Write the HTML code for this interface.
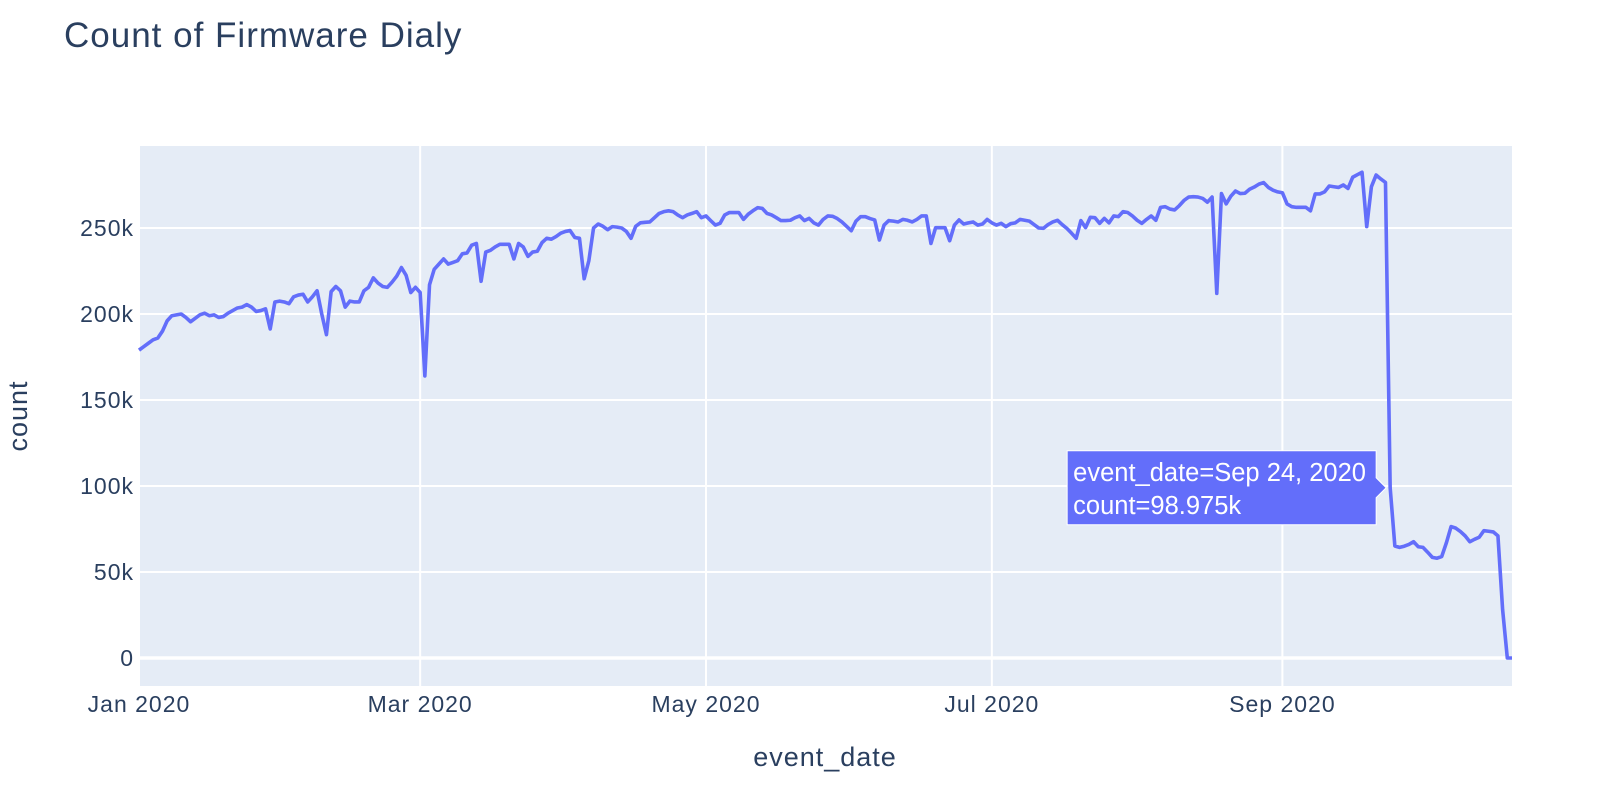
<!DOCTYPE html>
<html><head><meta charset="utf-8"><style>
html,body{margin:0;padding:0;background:#fff;}
svg{display:block;font-family:"Liberation Sans",sans-serif;}
</style></head><body>
<svg id="chart" width="1610" height="808" viewBox="0 0 1610 808">
<text x="64" y="47" font-size="35" letter-spacing="1" fill="#2a3f5f">Count of Firmware Dialy</text>
<rect x="139" y="146" width="1373" height="540" fill="#e5ecf6"/>
<g id="grid"></g>
<g id="yticks"></g>
<g id="xticks"></g>
<path id="line" fill="none" stroke="#636efa" stroke-width="3.6" stroke-linejoin="round"/>
<g id="tooltip"></g>
<text x="825" y="766" font-size="27" letter-spacing="1" text-anchor="middle" fill="#2a3f5f">event_date</text>
<text transform="translate(27,416) rotate(-90)" font-size="27" letter-spacing="1" text-anchor="middle" fill="#2a3f5f">count</text>
</svg>
<script>
const startDate = "2020-01-01";
const counts = [179,181,183,185,186,190,196,199,199.5,200,198,195.5,197.5,199.5,200.5,199,199.5,198,198.5,200.5,
202,203.5,204,205.5,204,201.5,202,203,191.3,207,207.5,207,206,210,211,211.5,207,210,213.5,200,
188,213,216,213.5,204,207.5,207,207,213.5,215.5,221,218,216,215.5,218.5,222,227,222.5,212.5,215.5,
212.5,164,217,226,229,232,229,230,231,235,235.5,240,241,219,236,237,239,240.5,240.5,240.5,
232,241,239,233.5,236,236.5,241.5,244,243.5,245,247,248,248.5,244.5,244,220.5,231,250,252.3,251,
249,250.8,250.5,250,248,244,251,253,253.3,253.5,256,258.5,259.5,260,259.5,257.5,256,257.6,258.5,259.5,
256,257,254.3,251.7,252.7,257.6,259,259,259,255,258,260,261.8,261.4,258.5,257.6,256,254.3,254.3,254.5,
256,257,254.3,255.6,253,251.7,255,257,256.8,255.5,253.5,251,248.4,254,256.6,256.6,255.5,254.7,243,251.7,
254.3,254,253.5,255,254.5,253.5,255,257,257,241,250.2,250.2,250.2,242.6,251.7,254.7,252.3,253,253.5,251.7,
252.3,255,253,251.7,252.7,250.8,252.5,253,255,254.5,254,252,250,249.8,252,253.5,254.5,252,249.8,247,
244,254.3,250.2,256.2,256,252.7,255.6,253,257,256.6,259.5,259,257,254.5,252.7,255,257,254.5,262,262.4,
261,260.5,263,266,268,268.2,268,267.2,265,268,212,270,264,268.5,271.5,270,270.2,272.5,273.8,275.5,
276.4,273.6,272,271,270.5,264,262.4,262,262,262,260,269.8,269.8,271,274.4,274,273.6,275,273,279.5,
281,282.4,250.8,274,280.8,278.5,276.5,98.975,65.1,64.3,65,66,67.6,64.7,64.3,61.5,58.5,58,59,67,
76.4,75.5,73.5,71,67.6,69,70.2,74,73.7,73.3,71,28,0,0];
const yTickValues = [0,50,100,150,200,250];
const yTickLabels = ["0","50k","100k","150k","200k","250k"];
const xTickDates = ["2020-01-01","2020-03-01","2020-05-01","2020-07-01","2020-09-01"];
const xTickLabels = ["Jan 2020","Mar 2020","May 2020","Jul 2020","Sep 2020"];
const hoverIndex = 267;

const NS="http://www.w3.org/2000/svg";
const L=139,R=1512,T=146,B=686;
const DAY=86400000;
const t0=Date.parse(startDate);
const nDays=counts.length-1;
function xs(day){return L+(day/nDays)*(R-L);}
function ys(v){return 658-(v/250)*(658-228);}
function dayOf(s){return (Date.parse(s)-t0)/DAY;}
function mk(tag,attrs,parent){const e=document.createElementNS(NS,tag);for(const k in attrs)e.setAttribute(k,attrs[k]);parent.appendChild(e);return e;}

const grid=document.getElementById('grid');
const yt=document.getElementById('yticks');
yTickValues.forEach((v,i)=>{
  const y=ys(v);
  const g=mk('line',{x1:L,x2:R,y1:y,y2:y,stroke:'#fff','stroke-width':v===0?3.5:2},grid);
  
  
  const t=mk('text',{x:134,y:y+8,'font-size':23,'letter-spacing':1,'text-anchor':'end',fill:'#2a3f5f'},yt);
  t.textContent=yTickLabels[i];
  
  
});
const xt=document.getElementById('xticks');
xTickDates.forEach((d,i)=>{
  const x=xs(dayOf(d));
  const g=mk('line',{x1:x,x2:x,y1:T,y2:B,stroke:'#fff','stroke-width':2},grid);
  
  
  const t=mk('text',{x:x,y:712,'font-size':23,'letter-spacing':1,'text-anchor':'middle',fill:'#2a3f5f'},xt);
  t.textContent=xTickLabels[i];
  
  
});
let d='';
counts.forEach((v,i)=>{d+=(i?'L':'M')+xs(i).toFixed(2)+' '+ys(v).toFixed(2);});
document.getElementById('line').setAttribute('d',d);

// tooltip
const tip=document.getElementById('tooltip');


const px=xs(hoverIndex),py=ys(counts[hoverIndex]);
const bw=309,bh=74,bx=px-4-10-bw,by=py-bh/2;
mk('path',{d:`M${px-4} ${py} L${bx+bw} ${py-10} L${bx+bw} ${by} L${bx} ${by} L${bx} ${by+bh} L${bx+bw} ${by+bh} L${bx+bw} ${py+10} Z`,fill:'#636efa',stroke:'#fff','stroke-width':1},tip);
const hd=new Date(t0+hoverIndex*DAY);
const mon=["Jan","Feb","Mar","Apr","May","Jun","Jul","Aug","Sep","Oct","Nov","Dec"][hd.getUTCMonth()];
const t1=mk('text',{x:bx+6,y:by+30,'font-size':25.5,fill:'#fff'},tip);
t1.textContent=`event_date=${mon} ${hd.getUTCDate()}, ${hd.getUTCFullYear()}`;


const t2=mk('text',{x:bx+6,y:by+63,'font-size':25.5,fill:'#fff'},tip);
t2.textContent=`count=${counts[hoverIndex]}k`;


</script>
</body></html>
